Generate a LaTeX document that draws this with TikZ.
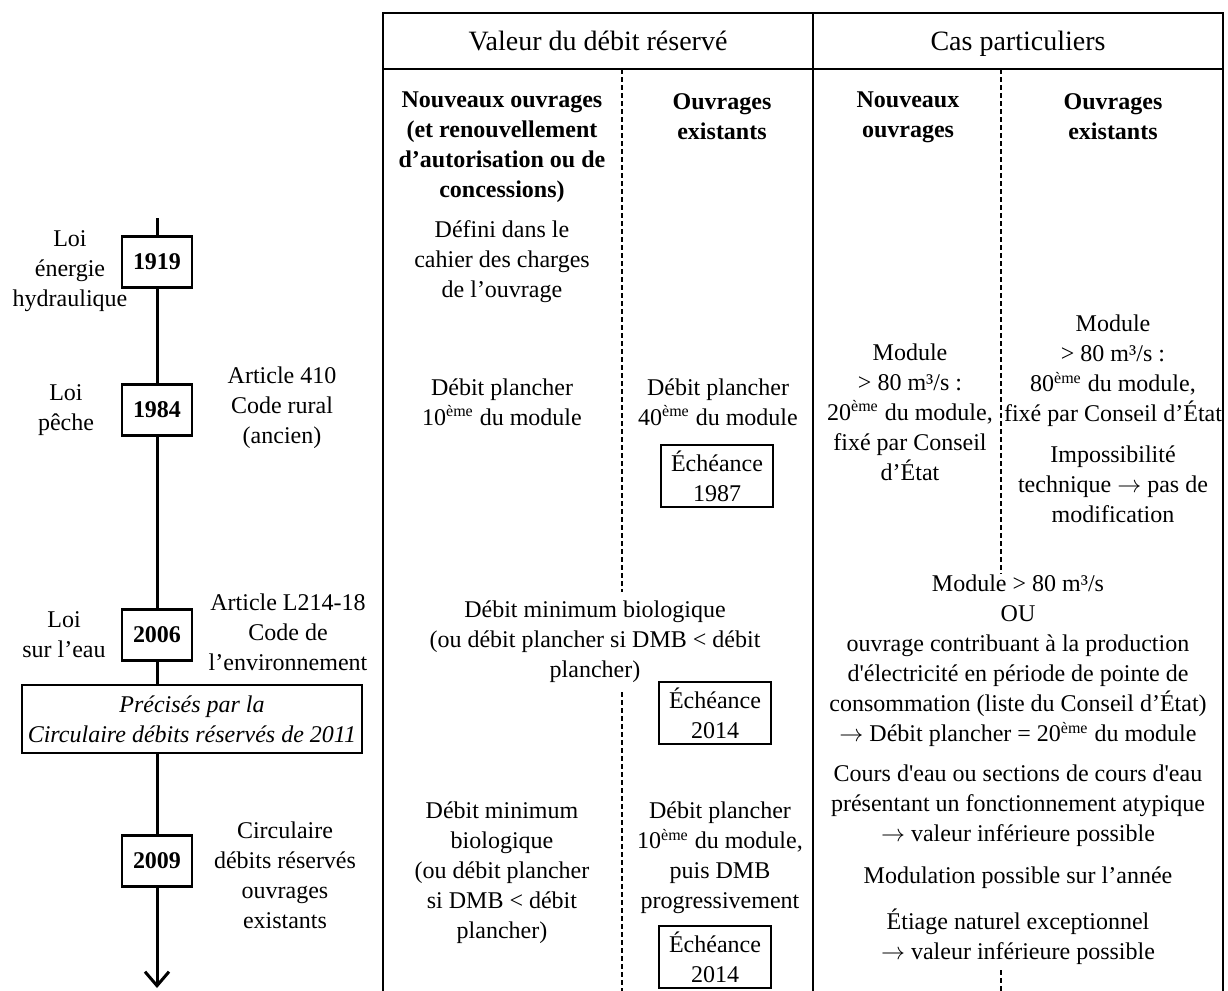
\documentclass[tikz,border=0pt]{standalone}
\usepackage{fontspec}
\setmainfont{Liberation Serif}
\usetikzlibrary{arrows.meta}
\newcommand{\fsz}{\fontsize{12}{15}\selectfont}
\newcommand{\hsz}{\fontsize{14}{17}\selectfont}
\newcommand{\eme}{\textsuperscript{ème}}
\newcommand{\ra}{$\rightarrow$}
\newcommand{\sq}{\textquotesingle}
\tikzset{
  txt/.style={align=center, inner sep=0pt, font=\fsz},
  head/.style={anchor=base, inner sep=0pt, font=\hsz},
  colhead/.style={align=center, inner sep=0pt, font=\fsz\bfseries},
  yearbox/.style={draw, line width=1.4pt, fill=white, minimum width=35pt, minimum height=25.5pt, inner sep=0pt, font=\fsz\bfseries},
  duebox/.style={draw, line width=0.6pt, fill=white, minimum width=56pt, minimum height=31pt, inner sep=0pt, align=center, font=\fsz},
  notebox/.style={draw, line width=0.6pt, fill=white, minimum width=170pt, minimum height=34pt, inner sep=0pt, align=center, font=\fsz\itshape},
  tline/.style={line width=1.5pt},
  frame/.style={line width=1pt},
  divider/.style={line width=0.6pt, dash pattern=on 2.5pt off 1.5pt}
}
\begin{document}
\begin{tikzpicture}[x=0.5pt, y=-0.5pt]
\useasboundingbox (0,0) rectangle (1228,991);
% table frame
\draw[frame] (383,991) -- (383,13) -- (1223,13) -- (1223,991);
\draw[frame] (383,69) -- (1223,69);
\draw[frame] (813,13) -- (813,69);
\draw[line width=0.8pt] (813,69) -- (813,991);
% dashed dividers
\draw[divider] (622,69) -- (622,592);
\draw[divider] (622,692) -- (622,991);
\draw[divider] (1001,69) -- (1001,574);
\draw[divider] (1001,970) -- (1001,991);
% headers
\node[head] (h1) at (598,50) {Valeur du débit réservé};
\node[head] (h2) at (1018,50) {Cas particuliers};
\node[colhead] (c1) at (502,147) {Nouveaux ouvrages\\(et renouvellement\\d’autorisation ou de\\concessions)};
\node[colhead] (c2) at (722,117) {Ouvrages\\existants};
\node[colhead] (c3) at (908,117) {Nouveaux\\ouvrages};
\node[colhead] (c4) at (1113,117) {Ouvrages\\existants};
% 1919 row
\node[txt] (b1919) at (502,262) {Défini dans le\\cahier des charges\\de l’ouvrage};
% 1984 row
\node[txt] (b84a) at (502,402) {Débit plancher\\10\eme{} du module};
\node[txt] (b84b) at (718,402) {Débit plancher\\40\eme{} du module};
\node[duebox] (e1987) at (717,476) {Échéance\\1987};
\node[txt] (b84c) at (910,412) {Module\\> 80 m³/s :\\20\eme{} du module,\\fixé par Conseil\\d’État};
\node[txt] (b84d) at (1113,371) {Module\\> 80 m³/s :\\80\eme{} du module,\\fixé par Conseil d’État};
\node[txt] (b84e) at (1113,484) {Impossibilité\\technique \ra{} pas de\\modification};
% 2006 row
\node[txt] (b06a) at (595,642) {Débit minimum biologique\\(ou débit plancher si DMB < débit\\plancher)};
\node[duebox] (e2014a) at (715,713) {Échéance\\2014};
\node[txt] (b06b) at (1018,661) {Module > 80 m³/s\\OU\\ouvrage contribuant à la production\\d\sq électricité en période de pointe de\\consommation (liste du Conseil d’État)\\\ra{} Débit plancher = 20\eme{} du module};
\node[txt] (b06c) at (1018,806) {Cours d\sq eau ou sections de cours d\sq eau\\présentant un fonctionnement atypique\\\ra{} valeur inférieure possible};
\node[txt] (b06d) at (1018,878) {Modulation possible sur l’année};
\node[txt] (b06e) at (1018,937) {Étiage naturel exceptionnel\\\ra{} valeur inférieure possible};
% 2009 row
\node[txt] (b09a) at (502,873) {Débit minimum\\biologique\\(ou débit plancher\\si DMB < débit\\plancher)};
\node[txt] (b09b) at (720,858) {Débit plancher\\10\eme{} du module,\\puis DMB\\progressivement};
\node[duebox] (e2014b) at (715,957) {Échéance\\2014};
% timeline
\coordinate (ttop) at (157,218);
\coordinate (tend) at (157,988);
\node[yearbox] (y1919) at (157,262) {1919};
\node[yearbox] (y1984) at (157,410) {1984};
\node[yearbox] (y2006) at (157,635) {2006};
\node[notebox] (note) at (192,719) {Précisés par la\\Circulaire débits réservés de 2011};
\node[yearbox] (y2009) at (157,861) {2009};
\draw[tline] (ttop) -- (y1919);
\draw[tline] (y1919) -- (y1984);
\draw[tline] (y1984) -- (y2006);
\draw[tline] (y2006.south) -- (y2006.south |- note.north);
\draw[tline] (y2009.north |- note.south) -- (y2009.north);
\draw[tline, -{Straight Barb[length=7pt, width=12pt, line width=1.5pt]}] (y2009) -- (tend);
% timeline labels
\node[txt] (l1919) at (70,271) {Loi\\énergie\\hydraulique};
\node[txt] (l1984) at (66,410) {Loi\\pêche};
\node[txt] (r1984) at (282,408) {Article 410\\Code rural\\(ancien)};
\node[txt] (l2006) at (64,635) {Loi\\sur l’eau};
\node[txt] (r2006) at (288,632) {Article L214-18\\Code de\\l’environnement};
\node[txt] (r2009) at (285,875) {Circulaire\\débits réservés\\ouvrages\\existants};
\end{tikzpicture}
\end{document}
